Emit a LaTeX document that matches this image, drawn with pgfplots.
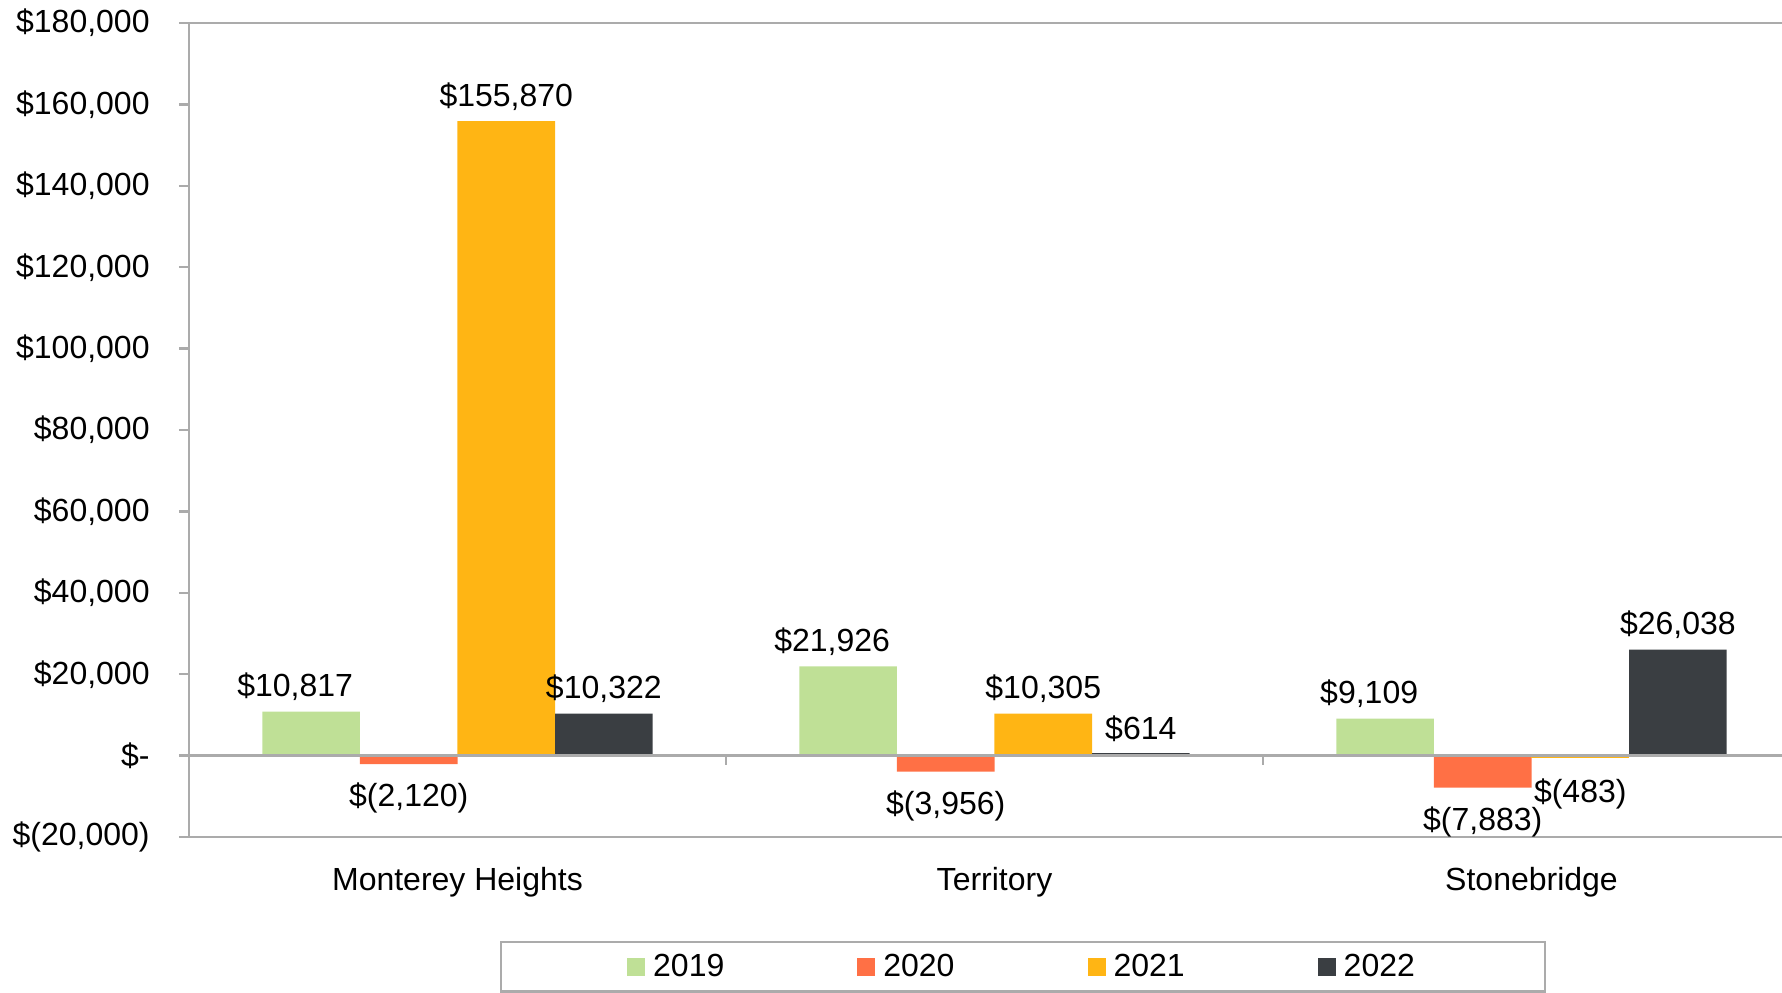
\documentclass[border=0pt]{standalone}
\usepackage{pgfplots}
\pgfplotsset{compat=1.18}
\usepackage{fontspec}
\setmainfont{Liberation Sans}
\definecolor{cgreen}{HTML}{BFE096}
\definecolor{corange}{HTML}{FF7045}
\definecolor{cyellow}{HTML}{FFB514}
\definecolor{cdark}{HTML}{3A3E42}
\definecolor{cgray}{HTML}{ABABAB}
\begin{document}
\begin{tikzpicture}
\useasboundingbox (-94.5pt,-77.5pt) rectangle (796.5pt,418.5pt);
\clip (-94.5pt,-77.5pt) rectangle (796.5pt,418.5pt);
\begin{axis}[
  at={(0,0)}, anchor=south west,
  scale only axis, width=796.5pt, height=407pt,
  xmin=-0.5, xmax=2.4665, ymin=-20000, ymax=180000,
  ybar, bar width=0.1817,
  axis line style={draw=none},
  xtick={0,1,2}, xticklabels={Monterey Heights,Territory,Stonebridge},
  x tick style={draw=none},
  xticklabel style={anchor=base, yshift=-21.5pt},
  ytick={-20000,0,20000,40000,60000,80000,100000,120000,140000,160000,180000},
  yticklabels={{\$(20,000)},{\$-},{\$20,000},{\$40,000},{\$60,000},{\$80,000},{\$100,000},{\$120,000},{\$140,000},{\$160,000},{\$180,000}},
  y tick style={draw=cgray, line width=1.2pt},
  tick align=outside, major tick length=5pt,
  yticklabel style={anchor=east, inner sep=0pt, xshift=-14.5pt},
  tick label style={font=\fontsize{16}{19}\selectfont},
  nodes near coords={\pgfplotspointmeta},
  point meta=explicit symbolic,
  nodes near coords style={font=\fontsize{16}{19}\selectfont, text=black},
  legend columns=4,
  legend style={at={(axis description cs:0.1952,0)}, anchor=north west, yshift=-52pt,
    draw=cgray, line width=1.2pt, inner xsep=63pt, inner ysep=4pt,
    font=\fontsize{16}{19}\selectfont,
    /tikz/every even column/.append style={column sep=64.5pt}},
  legend image code/.code={\fill[#1] (0pt,-4.5pt) rectangle (9pt,4.5pt); \path (11pt,0pt);},
  clip=false,
]
\addplot[fill=cgreen, draw=none, bar shift=-0.2725,
  nodes near coords style={anchor=south, yshift=2pt, xshift=-8pt}]
  coordinates {(0,10817) [\$10,817] (1,21926) [\$21,926] (2,9109) [\$9,109]};
\addplot[fill=corange, draw=none, bar shift=-0.0908,
  nodes near coords style={anchor=north, yshift=-6pt}]
  coordinates {(0,-2120) [\$(2,120)] (1,-3956) [\$(3,956)] (2,-7883) [\$(7,883)]};
\addplot[fill=cyellow, draw=none, bar shift=0.0908,
  nodes near coords style={anchor=south, yshift=2pt}]
  coordinates {(0,155870) [\$155,870] (1,10305) [\$10,305]};
\addplot[fill=cdark, draw=none, bar shift=0.2725,
  nodes near coords style={anchor=south, yshift=2pt}]
  coordinates {(0,10322) [\$10,322] (1,614) [\$614] (2,26038) [\$26,038]};
\addplot[fill=cyellow, draw=none, bar shift=0.0908, forget plot,
  nodes near coords style={anchor=north, yshift=-7pt}]
  coordinates {(2,-483) [\$(483)]};
\legend{2019,2020,2021,2022}
\draw[cgray, line width=1.2pt] (axis cs:-0.5,-20000) -- (axis cs:-0.5,180000);
\draw[cgray, line width=1.2pt] (axis cs:-0.5,180000) -- (axis cs:2.6,180000);
\draw[cgray, line width=1.2pt] (axis cs:-0.5,-20000) -- (axis cs:2.6,-20000);
\draw[cgray, line width=1.2pt] (axis cs:-0.5,0) -- (axis cs:2.6,0);
\draw[cgray, line width=1.2pt] (axis cs:0.5,0) -- ([yshift=-4.5pt]axis cs:0.5,0);
\draw[cgray, line width=1.2pt] (axis cs:1.5,0) -- ([yshift=-4.5pt]axis cs:1.5,0);
\end{axis}
\end{tikzpicture}
\end{document}
